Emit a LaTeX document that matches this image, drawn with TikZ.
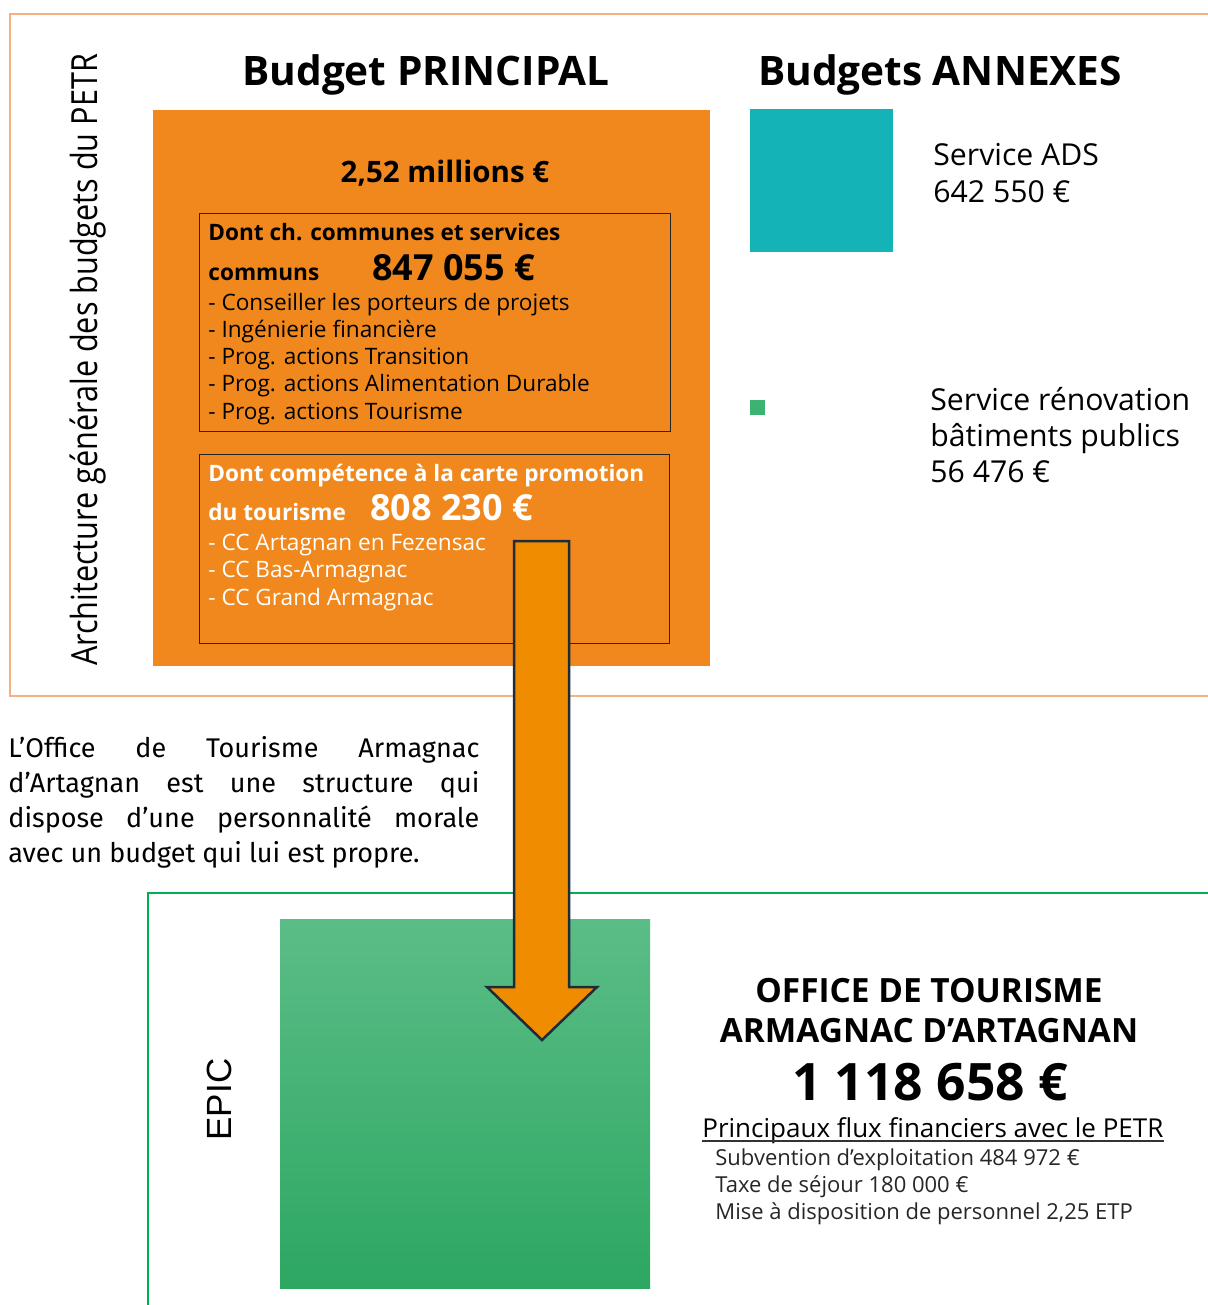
\documentclass[tikz,border=0pt]{standalone}
\usepackage{fontspec}
\setmainfont{Open Sans}
\newfontfamily\parafont{Fira Sans}
\newfontfamily\archfont[FakeStretch=0.85]{Open Sans}
\newfontfamily\epicfont{Liberation Sans}
\usetikzlibrary{positioning}

\definecolor{frameorange}{HTML}{F4B183}
\definecolor{budgetorange}{HTML}{F0881E}
\definecolor{arroworange}{HTML}{F08C00}
\definecolor{arrowedge}{HTML}{1E2B38}
\definecolor{adsteal}{HTML}{13B3B7}
\definecolor{renogreen}{HTML}{3CB371}
\definecolor{epicgreen}{HTML}{00B050}
\definecolor{otgreentop}{HTML}{5BBD86}
\definecolor{otgreenmid}{HTML}{3CB873}
\definecolor{otgreenbot}{HTML}{2DA762}

\newcommand{\fsz}[2]{\fontsize{#1}{#2}\selectfont}

\begin{document}
\begin{tikzpicture}[
  x=0.5pt, y=-0.5pt, inner sep=0pt,
  title/.style={anchor=base, font=\bfseries\fsz{20.3}{24}},
  bhead/.style={anchor=base west, font=\bfseries\fsz{11.3}{13}},
  bsum/.style={anchor=base west, font=\bfseries\fsz{18}{22}},
  bitem/.style={anchor=base west, font=\fsz{11.3}{13}},
  annex/.style={anchor=base west, font=\fsz{15.1}{18}},
  ot/.style={anchor=base, font=\bfseries\fsz{16.7}{20}},
  flux/.style={anchor=base west, font=\fsz{11}{13}, text=black!85}
]

\clip (0,0) rectangle (1208,1305);

% frames
\draw[frameorange, line width=1pt] (1220,14) -- (10,14) -- (10,696) -- (1220,696);
\draw[epicgreen, line width=1.25pt] (1220,893) -- (148,893) -- (148,1320);

\node[rotate=90, anchor=base, font=\archfont\fsz{18}{21}] (archi) at (97,360)
  {Architecture générale des budgets du PETR};

% budget principal
\node[title] (tprinc) at (426,86) {Budget PRINCIPAL};
\fill[budgetorange] (153,110) rectangle (710,666);
\node[anchor=base, font=\bfseries\fsz{14.75}{18}] (total) at (445,183) {2,52 millions €};

\draw[black!85, line width=0.5pt] (199,214) rectangle (670,431);
\node[bhead] (cc) at (208,241) {Dont ch. communes et services};
\node[bhead] (ccb) at (208,280) {communs};
\node[bsum] (ccsum) at (372,280) {847 055 €};
\foreach \t [count=\i] in {Conseiller les porteurs de projets, Ingénierie financière,
    Prog. actions Transition, Prog. actions Alimentation Durable, Prog. actions Tourisme} {
  \node[bitem] (cci\i) at (208,282.7+27.3*\i) {- \t};
}

\draw[black!85, line width=0.5pt] (199,454) rectangle (669,643);
\node[bhead, text=white] (tour) at (208,481) {Dont compétence à la carte promotion};
\node[bhead, text=white] (tourb) at (208,520) {du tourisme};
\node[bsum, text=white] (toursum) at (370,520) {808 230 €};
\foreach \t [count=\i] in {CC Artagnan en Fezensac, CC Bas-Armagnac, CC Grand Armagnac} {
  \node[bitem, text=white] (cct\i) at (208,522.5+27.5*\i) {- \t};
}

% budgets annexes
\node[title] (tannex) at (940,86) {Budgets ANNEXES};
\fill[adsteal] (750,109) rectangle (893,252);
\node[annex] (ads1) at (933,166) {Service ADS};
\node[annex] (ads2) at (933,203) {642 550 €};
\fill[renogreen] (750,400) rectangle (765,415);
\node[annex] (reno1) at (930,410) {Service rénovation};
\node[annex] (reno2) at (930,446) {bâtiments publics};
\node[annex] (reno3) at (930,482) {56 476 €};

\node[anchor=north west, text width=235.5pt, align=justify,
  font=\parafont\fsz{13.5}{17.5}] (para) at (8,736)
  {L’Office de Tourisme Armagnac\linebreak d’Artagnan est une structure qui\linebreak
   dispose d’une personnalité morale\linebreak avec un budget qui lui est propre.};

% EPIC
\node[rotate=90, anchor=base, font=\epicfont\fsz{17.5}{21}] (epic) at (231,1099.5) {EPIC};
\shade[top color=otgreentop, middle color=otgreenmid, bottom color=otgreenbot]
  (280,919) rectangle (650,1288);

\draw[fill=arroworange, draw=arrowedge, line width=1.25pt, line join=miter]
  (514,541) -- (569,541) -- (569,987) -- (597,987) -- (542,1040)
  -- (487,987) -- (514,987) -- cycle;

\node[ot] (ot1) at (929,1002) {OFFICE DE TOURISME};
\node[ot] (ot2) at (929,1042) {ARMAGNAC D’ARTAGNAN};
\node[anchor=base, font=\bfseries\fsz{25.8}{30}] (otsum) at (930,1100) {1 118 658 €};
\node[anchor=base west, font=\fsz{13}{16}] (flux) at (702,1137)
  {Principaux flux financiers avec le PETR};
\draw[black!80, line width=0.6pt] ([yshift=-2pt]flux.base west) -- ([yshift=-2pt]flux.base east);
\foreach \t [count=\i] in {{Subvention d’exploitation 484 972 €}, {Taxe de séjour 180 000 €},
    {Mise à disposition de personnel 2,25 ETP}} {
  \node[flux] (fl\i) at (715,1138+27*\i) {\t};
}

\end{tikzpicture}
\end{document}
